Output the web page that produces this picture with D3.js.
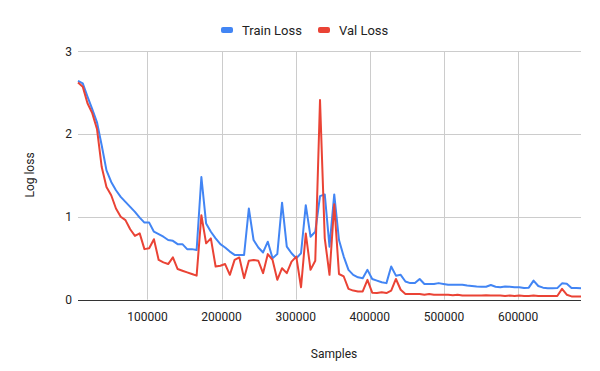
<!DOCTYPE html>
<html>
<head>
<meta charset="utf-8">
<script src="https://cdn.jsdelivr.net/npm/d3@7"></script>
<style>
  body { margin: 0; background: #fff; }
  svg { font-family: Roboto, Arial, sans-serif; }
</style>
</head>
<body>
<svg id="s" width="600" height="371"></svg>
<script>
const step = 6400;
const trainLoss = [
  2.64, 2.61, 2.45, 2.30, 2.14, 1.86, 1.56, 1.42, 1.32, 1.24,
  1.18, 1.12, 1.06, 0.99, 0.93, 0.93, 0.82, 0.79, 0.76, 0.72,
  0.71, 0.67, 0.67, 0.61, 0.61, 0.60, 1.48, 0.92, 0.82, 0.74,
  0.67, 0.63, 0.58, 0.54, 0.54, 0.54, 1.10, 0.72, 0.63, 0.57,
  0.70, 0.50, 0.55, 1.17, 0.64, 0.56, 0.50, 0.56, 1.14, 0.76,
  0.82, 1.25, 1.27, 0.64, 1.27, 0.72, 0.52, 0.36, 0.30, 0.27,
  0.26, 0.36, 0.25, 0.23, 0.21, 0.20, 0.40, 0.29, 0.30, 0.22,
  0.20, 0.20, 0.25, 0.19, 0.19, 0.19, 0.20, 0.19, 0.18, 0.18,
  0.18, 0.18, 0.17, 0.165, 0.16, 0.157, 0.157, 0.177, 0.157, 0.15,
  0.16, 0.157, 0.15, 0.15, 0.14, 0.145, 0.23, 0.165, 0.145, 0.137,
  0.137, 0.14, 0.197, 0.193, 0.14, 0.14, 0.137,
];
const valLoss = [
  2.62, 2.57, 2.37, 2.25, 2.06, 1.60, 1.36, 1.26, 1.10, 1.00,
  0.96, 0.85, 0.77, 0.80, 0.61, 0.62, 0.73, 0.48, 0.45, 0.43,
  0.51, 0.37, 0.35, 0.33, 0.31, 0.29, 1.02, 0.68, 0.74, 0.40,
  0.41, 0.43, 0.30, 0.48, 0.51, 0.26, 0.47, 0.48, 0.47, 0.32,
  0.55, 0.48, 0.24, 0.38, 0.32, 0.46, 0.52, 0.15, 0.80, 0.36,
  0.47, 2.41, 0.74, 0.30, 1.15, 0.31, 0.28, 0.13, 0.11, 0.10,
  0.10, 0.24, 0.085, 0.08, 0.09, 0.08, 0.11, 0.25, 0.12, 0.07,
  0.07, 0.07, 0.07, 0.06, 0.07, 0.06, 0.06, 0.06, 0.06, 0.055,
  0.06, 0.05, 0.05, 0.05, 0.05, 0.05, 0.055, 0.05, 0.05, 0.05,
  0.045, 0.05, 0.045, 0.05, 0.045, 0.045, 0.05, 0.045, 0.045, 0.045,
  0.045, 0.045, 0.13, 0.06, 0.04, 0.04, 0.04,
];
const samples = trainLoss.map((v, i) => (i + 1) * step);
const xTicks = [100000, 200000, 300000, 400000, 500000, 600000];
const yTicks = [0, 1, 2, 3];
const series = [
  { name: 'Train Loss', values: trainLoss, color: '#4285f4' },
  { name: 'Val Loss', values: valLoss, color: '#ea4335' },
];

const svg = d3.select('#s');
const x = d3.scaleLinear().domain(d3.extent(samples)).range([78, 581]);
const y = d3.scaleLinear().domain([0, 3]).range([299.7, 51]);

// grid
svg.append('g')
  .selectAll('line')
  .data(xTicks)
  .enter()
  .append('line')
  .attr('x1', d => Math.round(x(d)) + 0.5)
  .attr('x2', d => Math.round(x(d)) + 0.5)
  .attr('y1', y(3))
  .attr('y2', y(0))
  .attr('stroke', '#cccccc');
svg.append('g')
  .selectAll('line')
  .data(yTicks.filter(d => d > 0))
  .enter()
  .append('line')
  .attr('x1', x.range()[0])
  .attr('x2', x.range()[1])
  .attr('y1', d => Math.round(y(d)) + 0.5)
  .attr('y2', d => Math.round(y(d)) + 0.5)
  .attr('stroke', '#cccccc');

// tick labels
svg.append('g')
  .selectAll('text')
  .data(xTicks)
  .enter()
  .append('text')
  .attr('x', d => x(d))
  .attr('y', 320.5)
  .attr('text-anchor', 'middle')
  .attr('font-size', 12)
  .attr('fill', '#222')
  .text(d => d);
svg.append('g')
  .selectAll('text')
  .data(yTicks)
  .enter()
  .append('text')
  .attr('x', 72)
  .attr('y', d => y(d) + 4.5)
  .attr('text-anchor', 'end')
  .attr('font-size', 12)
  .attr('fill', '#222')
  .text(d => d);

// lines
const line = values => d3.line()
  .x((v, i) => x(samples[i]))
  .y(v => y(v))(values);
svg.append('g')
  .selectAll('path')
  .data(series)
  .enter()
  .append('path')
  .attr('d', s => line(s.values))
  .attr('fill', 'none')
  .attr('stroke', s => s.color)
  .attr('stroke-width', 2)
  .attr('stroke-linejoin', 'round');

// baseline
svg.append('line')
  .attr('x1', x.range()[0])
  .attr('x2', x.range()[1])
  .attr('y1', Math.round(y(0)) + 0.5)
  .attr('y2', Math.round(y(0)) + 0.5)
  .attr('stroke', '#333');

// axis titles
svg.append('text')
  .attr('x', 334)
  .attr('y', 357.5)
  .attr('text-anchor', 'middle')
  .attr('font-size', 12)
  .attr('fill', '#222')
  .text('Samples');
svg.append('text')
  .attr('transform', 'translate(34,175) rotate(-90)')
  .attr('text-anchor', 'middle')
  .attr('font-size', 12)
  .attr('fill', '#222')
  .text('Log loss');

// legend
const legendX = [221, 318];
const legend = svg.append('g')
  .selectAll('g')
  .data(series)
  .enter()
  .append('g')
  .attr('transform', (s, i) => `translate(${legendX[i]},30)`);
legend.append('rect')
  .attr('x', 0)
  .attr('y', -3)
  .attr('width', 12)
  .attr('height', 6)
  .attr('rx', 2)
  .attr('fill', s => s.color);
legend.append('text')
  .attr('x', 21)
  .attr('y', 4.5)
  .attr('font-size', 13)
  .attr('fill', '#222')
  .text(s => s.name);
</script>
</body>
</html>
